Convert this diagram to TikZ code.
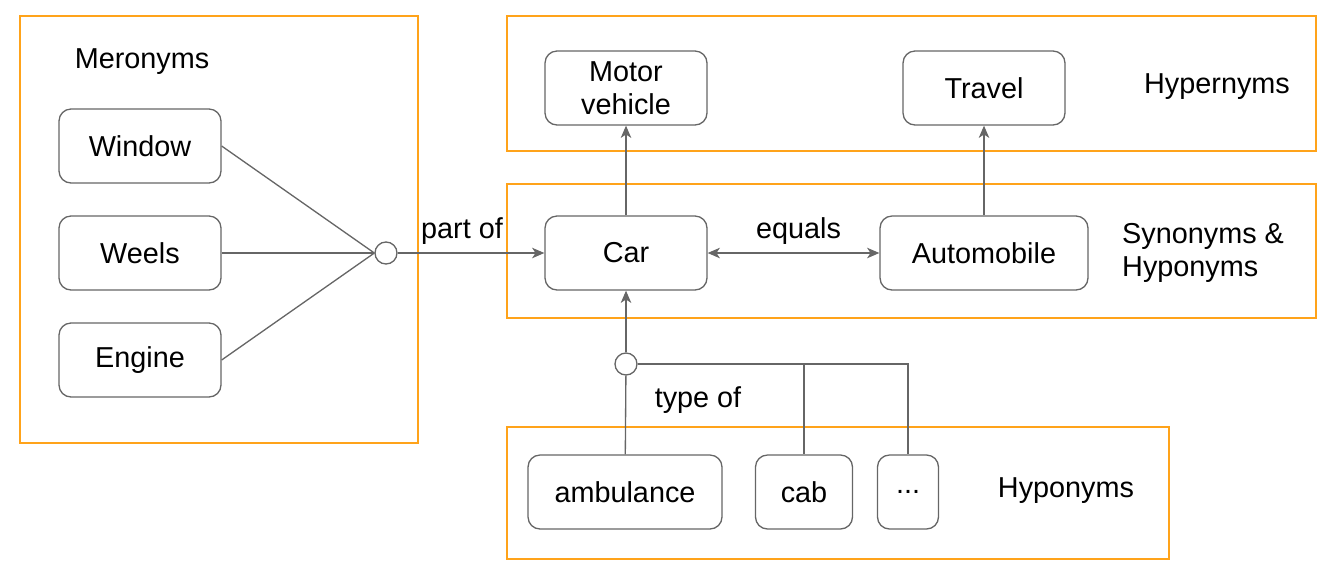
\documentclass[tikz,border=0pt]{standalone}
\usepackage{fontspec}
\setmainfont{Liberation Sans}
\usetikzlibrary{arrows.meta}
\definecolor{frameorange}{HTML}{FFA31A}
\definecolor{linegray}{HTML}{666666}

\begin{document}
\begin{tikzpicture}[x=0.02cm, y=-0.02cm,
    every node/.style={font=\fontsize{16.4}{18.8}\selectfont},
    term/.style={draw=linegray, line width=0.75pt, rounded corners=0.24cm, minimum width=3.24cm, minimum height=1.48cm, inner sep=0pt, align=center},
    junction/.style={draw=linegray, line width=0.75pt, circle, minimum size=0.44cm, inner sep=0pt, fill=white},
    group/.style={draw=frameorange, line width=0.8pt},
    link/.style={draw=linegray, line width=0.75pt},
    arr/.style={link, -{Stealth[length=7pt, width=6pt, inset=2pt]}},
    barr/.style={link, {Stealth[length=7pt, width=6pt, inset=2pt]}-{Stealth[length=7pt, width=6pt, inset=2pt]}}]
    \useasboundingbox (0,0) rectangle (1336,586);

    \draw[group] (20,16) rectangle (418,443);
    \draw[group] (507,16) rectangle (1316,151);
    \draw[group] (507,184) rectangle (1316,318);
    \draw[group] (507,427) rectangle (1169,559);

    \node (merolabel) at (142,62) {Meronyms};
    \node (hyperlabel) at (1217,87) {Hypernyms};
    \node[align=left, anchor=west] (synlabel) at (1116,253) {Synonyms \&\\Hyponyms};
    \node (hypolabel) at (1066,491) {Hyponyms};

    \node[term] (window) at (140,146) {Window};
    \node[term] (weels) at (140,253) {Weels};
    \node[term] (engine) at (140,360) {Engine};
    \node[junction] (jpart) at (386,253) {};

    \node[term] (motor) at (626,88) {Motor\\vehicle};
    \node[term] (travel) at (984,88) {Travel};
    \node[term] (car) at (626,253) {Car};
    \node[term, minimum width=4.16cm] (auto) at (984,253) {Automobile};

    \node[junction] (jtype) at (626,364) {};
    \node (typelabel) at (698,400) {type of};
    \node[term, minimum width=3.88cm] (amb) at (625,492) {ambulance};
    \node[term, minimum width=1.94cm] (cab) at (804,492) {cab};
    \node[term, minimum width=1.22cm] (dots) at (908,492) {...};

    \draw[link] (window.east) -- (jpart.west);
    \draw[link] (weels.east) -- (jpart.west);
    \draw[link] (engine.east) -- (jpart.west);
    \draw[arr] (jpart) -- node[above, xshift=-0.18cm, yshift=1pt] {part of} (car);

    \draw[arr] (car) -- (motor);
    \draw[arr] (auto) -- (travel);
    \draw[barr] (car) -- node[above, xshift=0.1cm, yshift=1pt] {equals} (auto);

    \draw[arr] (jtype) -- (car);
    \draw[link] (jtype) -- (amb);
    \draw[link] (jtype.east) -| (cab);
    \draw[link] (jtype.east) -| (dots);
\end{tikzpicture}
\end{document}
